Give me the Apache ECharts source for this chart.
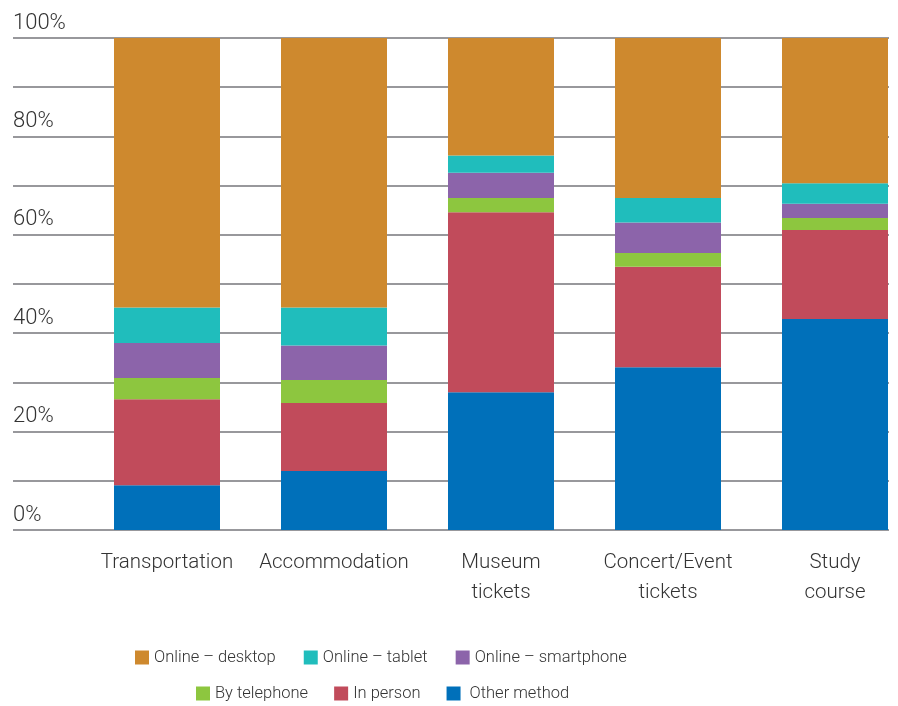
<!DOCTYPE html>
<html>
<head>
<meta charset="utf-8">
<style>
  html, body { margin: 0; padding: 0; background: #ffffff; }
  #chart { width: 898px; height: 706px; }
</style>
<script src="https://cdn.jsdelivr.net/npm/echarts@6/dist/echarts.min.js"></script>
</head>
<body>
<div id="chart"></div>
<script>
// Booking channel shares (%) for each purchase type
const categories = ['Transportation', 'Accommodation', 'Museum\ntickets', 'Concert/Event\ntickets', 'Study\ncourse'];

const otherMethod       = [9.1, 12.0, 28.0, 33.1, 42.9];
const inPerson          = [17.5, 13.8, 36.6, 20.4, 18.1];
const byTelephone       = [4.3, 4.7, 2.9, 2.8, 2.4];
const onlineSmartphone  = [7.1, 7.0, 5.1, 6.2, 2.9];
const onlineTablet      = [7.2, 7.7, 3.5, 5.0, 4.2];
const onlineDesktop     = [54.8, 54.8, 23.9, 32.5, 29.5];

const yTickValues = [0, 20, 40, 60, 80, 100];
const yTickLabels = ['0%', '20%', '40%', '60%', '80%', '100%'];

const FONT = 'Roboto, "Liberation Sans", sans-serif';
const TEXT = '#333333';

const seriesDefs = [
  { name: 'Other method',        data: otherMethod,      color: '#0070BA' },
  { name: 'In person',           data: inPerson,         color: '#C14B5B' },
  { name: 'By telephone',        data: byTelephone,      color: '#8DC63F' },
  { name: 'Online – smartphone', data: onlineSmartphone, color: '#8C64AA' },
  { name: 'Online – tablet',     data: onlineTablet,     color: '#20BDBC' },
  { name: 'Online – desktop',    data: onlineDesktop,    color: '#CE892E' }
];

const chart = echarts.init(document.getElementById('chart'), null, { renderer: 'canvas' });

const legendCommon = {
  orient: 'horizontal',
  padding: 0,
  itemWidth: 14,
  itemHeight: 14,
  icon: 'rect',
  textStyle: { fontFamily: FONT, fontSize: 16.5, fontWeight: 300, color: TEXT },
  selectedMode: false
};

chart.setOption({
  animation: false,
  backgroundColor: '#ffffff',
  grid: [
    // background grid carrying the horizontal rules and percentage labels
    { left: 13, right: 9, top: 38, bottom: 176, containLabel: false },
    // grid holding the stacked columns; first and last category sit on its edges
    { left: 167, right: 63, top: 38, bottom: 176, containLabel: false }
  ],
  xAxis: [
    { gridIndex: 0, type: 'value', min: 0, max: 1, show: false },
    {
      gridIndex: 1,
      type: 'category',
      boundaryGap: false,
      data: categories,
      axisLine: { show: false },
      axisTick: { show: false },
      axisLabel: {
        margin: 18,
        fontFamily: FONT,
        fontSize: 20.5,
        fontWeight: 300,
        lineHeight: 30,
        color: TEXT,
        interval: 0
      }
    }
  ],
  yAxis: [
    {
      gridIndex: 0,
      type: 'value',
      min: 0,
      max: 100,
      interval: 10,
      axisLine: { show: false },
      axisTick: { show: false },
      splitLine: { show: true, lineStyle: { color: '#98989C', width: 2 } },
      axisLabel: {
        inside: true,
        margin: 0,
        align: 'left',
        verticalAlign: 'bottom',
        fontFamily: FONT,
        fontSize: 22,
        fontWeight: 300,
        lineHeight: 30,
        color: TEXT,
        formatter: function (v) {
          const i = yTickValues.indexOf(v);
          return i >= 0 ? yTickLabels[i] : '';
        }
      }
    },
    { gridIndex: 1, type: 'value', min: 0, max: 100, show: false }
  ],
  legend: [
    Object.assign({}, legendCommon, {
      left: 135, top: 649, itemGap: 28,
      data: ['Online – desktop', 'Online – tablet', 'Online – smartphone']
    }),
    Object.assign({}, legendCommon, {
      left: 196, top: 685, itemGap: 26,
      data: ['By telephone', 'In person', 'Other method'],
      formatter: function (name) { return name === 'Other method' ? ' ' + name : name; }
    })
  ],
  series: seriesDefs.map(s => ({
    name: s.name,
    type: 'bar',
    stack: 'total',
    xAxisIndex: 1,
    yAxisIndex: 1,
    barWidth: 106,
    clip: false,
    data: s.data,
    itemStyle: { color: s.color },
    emphasis: { disabled: true }
  }))
});
</script>
</body>
</html>
